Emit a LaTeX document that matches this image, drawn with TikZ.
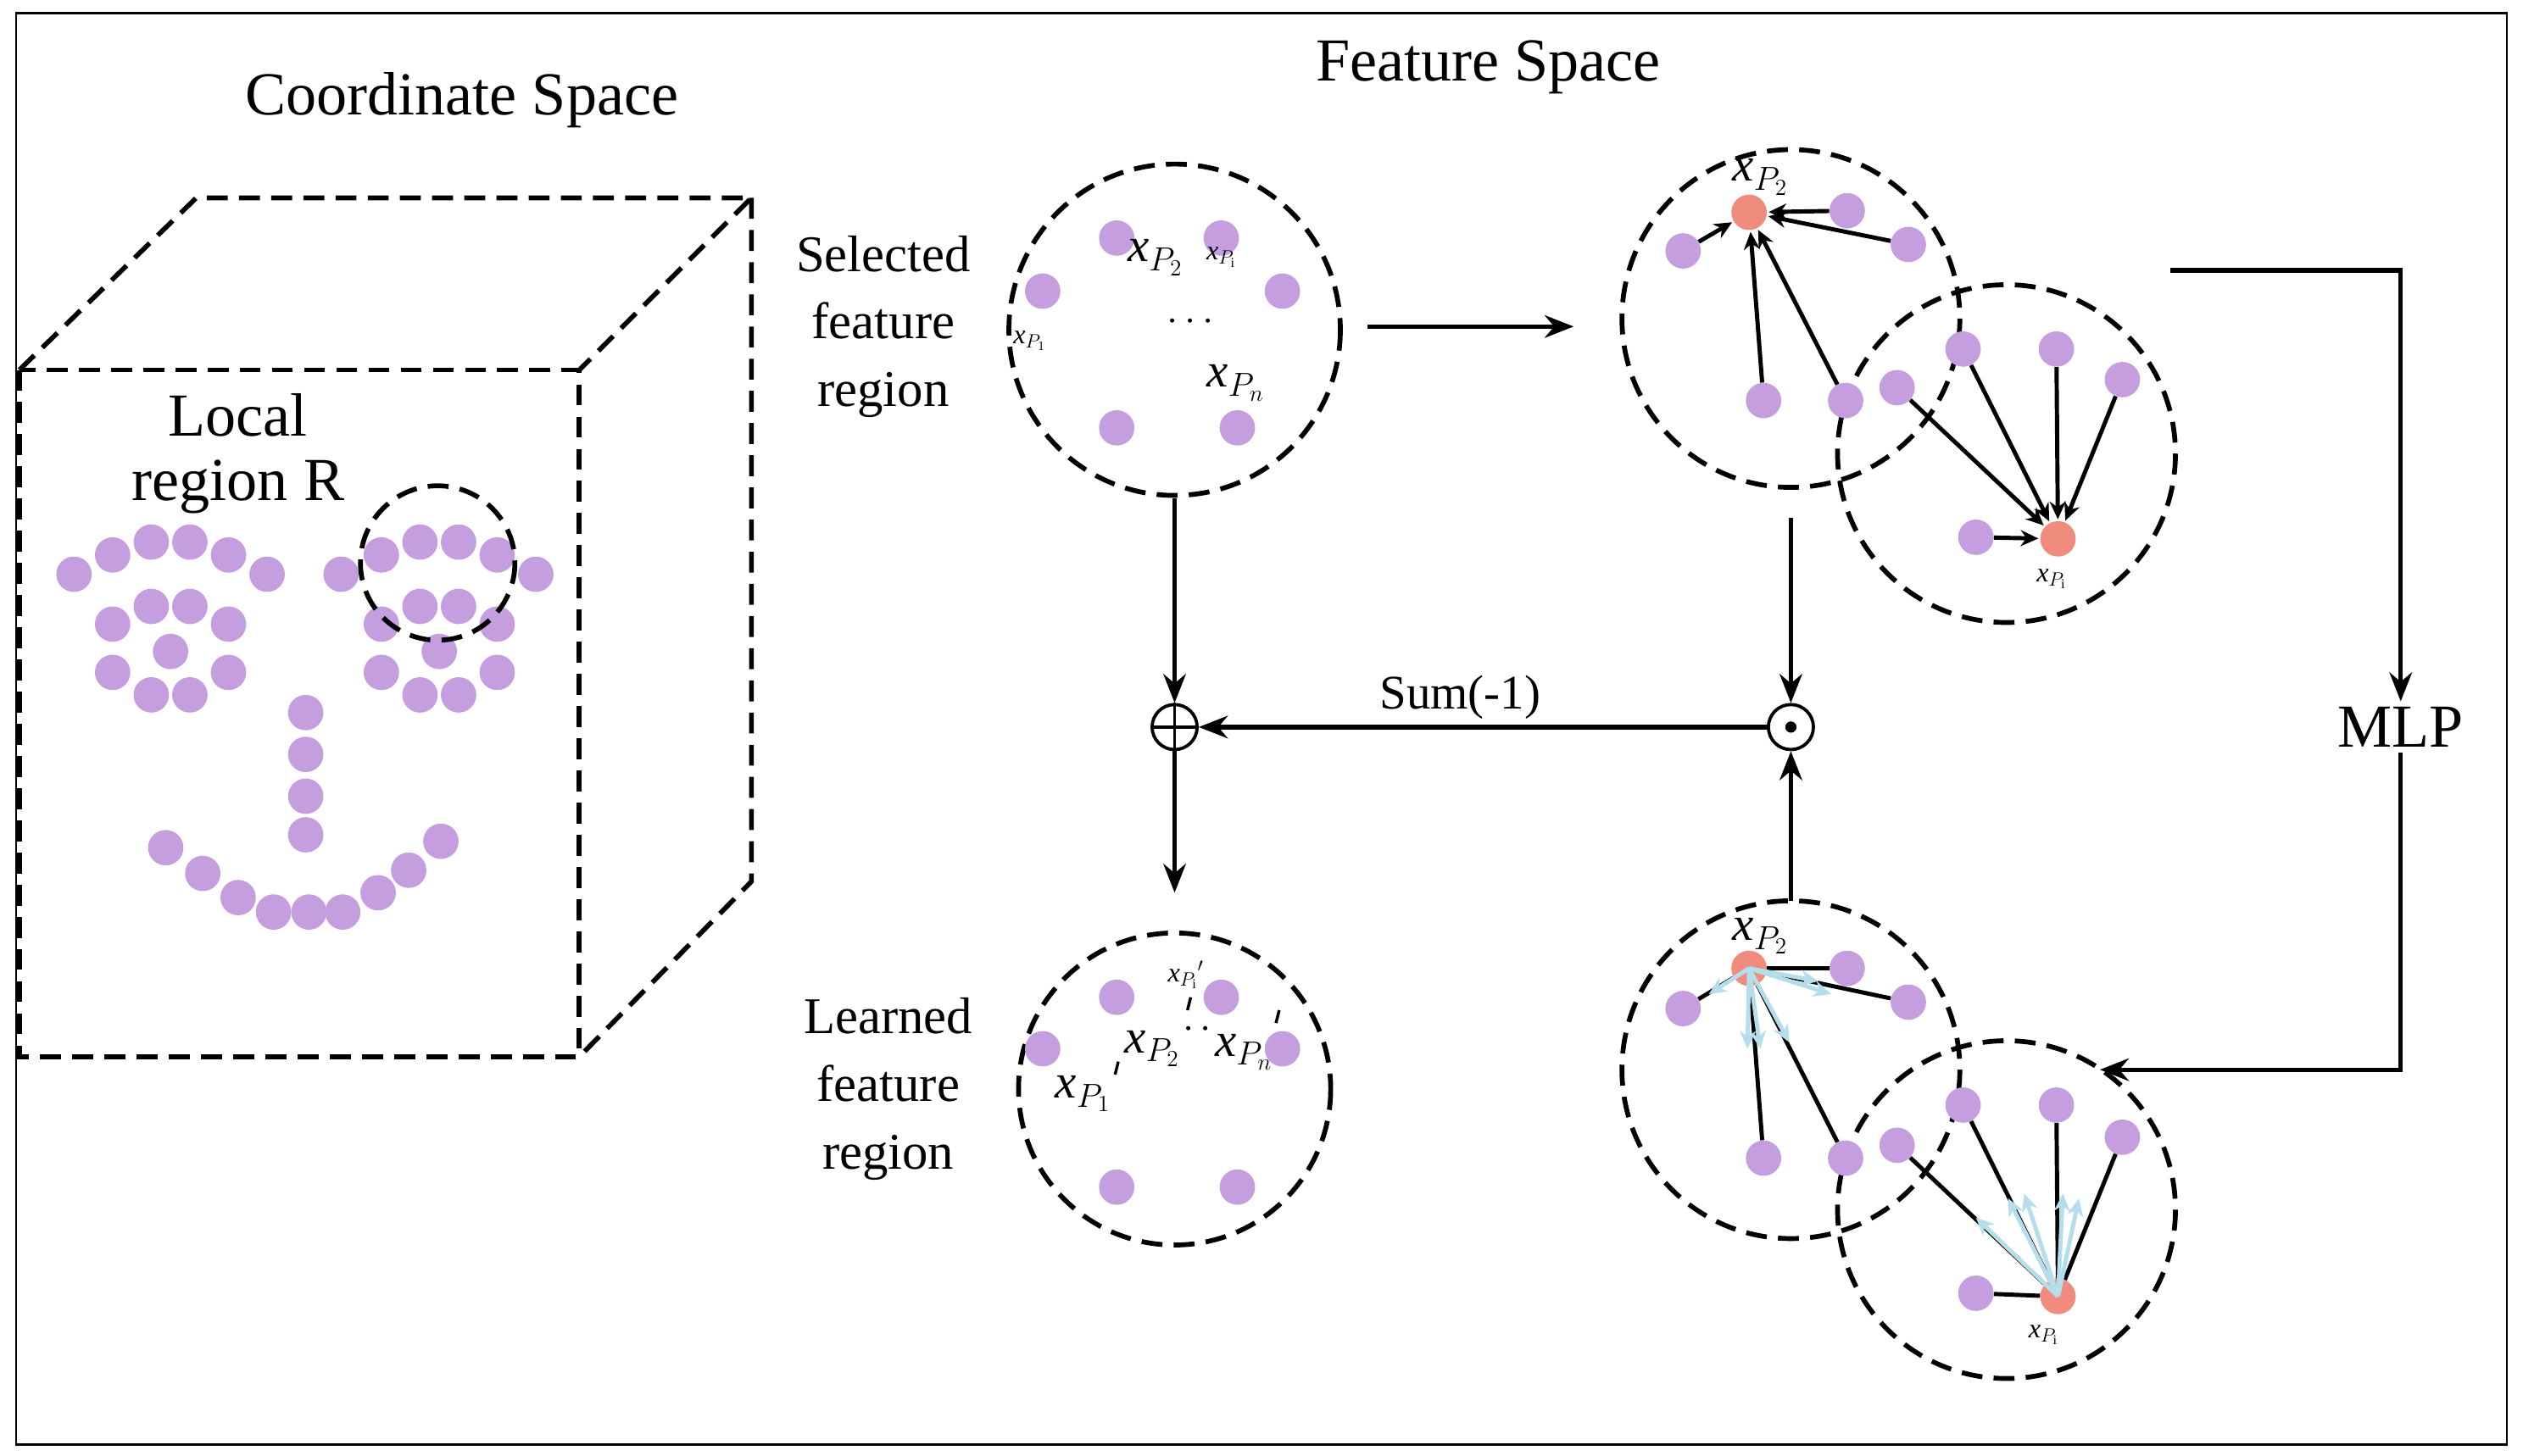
\documentclass[tikz,border=0pt]{standalone}
\usepackage{fontspec}
\setmainfont{Liberation Serif}
\usetikzlibrary{arrows.meta}
\definecolor{pur}{RGB}{196,158,222}
\definecolor{red1}{RGB}{240,140,125}
\definecolor{lb}{RGB}{180,222,235}
\newcommand{\xv}[1]{\textit{x}$_{#1}$}
\begin{document}
\begin{tikzpicture}[x=1pt,y=-1pt,
 dsh/.style={line width=3pt,dash pattern=on 13pt off 7pt},
 pd/.style={circle,fill=pur,inner sep=0pt,minimum size=22pt},
 rd/.style={circle,fill=red1,inner sep=0pt,minimum size=22pt},
 arr/.style={line width=2.8pt,-{Stealth[length=18pt,width=14pt]}},
 sarr/.style={line width=2.6pt,-{Stealth[length=11pt,width=10pt]},shorten >=1pt},
 barr/.style={line width=2.6pt,draw=lb,-{Stealth[length=11pt,width=10pt]}},
 big/.style={font=\fontsize{38}{42}\selectfont},
 mid/.style={font=\fontsize{32}{42}\selectfont,align=center},
 lab/.style={font=\fontsize{30}{32}\selectfont,inner sep=0pt}]
\useasboundingbox (0,0) rectangle (1568,905);
\draw[line width=1.4pt] (10,8) rectangle (1558,898);
% cube
\draw[dsh] (12,230) rectangle (360,657);
\draw[dsh] (12,230) -- (122,123) -- (467,123) -- (360,230);
\draw[dsh] (467,123) -- (467,548) -- (360,657);
\node[big] (t1) at (287,62) {Coordinate Space};
\node[big] (t2) at (925,42) {Feature Space};
\node[big,align=center] (lr) at (148,282) {Local\\[-2pt]region R};
\foreach \p in {(46,357),(70,345),(94,337),(118,337),(142,345),(166,357),(70,388),(94,377),(118,377),(142,388),(70,418),(94,432),(118,432),(142,418),(106,405),
(212,357),(237,345),(261,337),(285,337),(309,345),(333,357),(237,388),(261,377),(285,377),(309,388),(237,418),(261,432),(285,432),(309,418),(273,405),
(190,443),(190,469),(190,495),(190,519),
(103,527),(126,543),(148,558),(170,567),(192,567),(213,567),(235,555),(254,541),(274,523)}
 \node[pd] at \p {};
\draw[dsh] (272,350) circle (48);
% selected region
\draw[dsh] (730,205) circle (103);
\foreach \p in {(694,148),(759,148),(648,181),(797,181),(694,266),(769,266)} \node[pd] at \p {};
\node[lab] at (718,160) {\xv{P_2}};
\node[lab,font=\fontsize{17}{18}\selectfont] at (759,160) {\xv{P_\mathrm{i}}};
\node[lab,font=\fontsize{17}{18}\selectfont] at (640,212) {\xv{P_1}};
\node[lab] at (740,200) {$\cdots$};
\node[lab] at (768,238) {\xv{P_n}};
\node[mid] (sel) at (549,203) {Selected\\feature\\region};
\coordinate (s1) at (850,203); \coordinate (s2) at (978,203);
\draw[arr] (s1) -- (s2);
% top right circles
\draw[dsh] (1113,198) circle (105);
\draw[dsh] (1247,282) circle (105);
\node[rd] (ra) at (1087,132) {};
\foreach \p/\n in {(1046,156)/a1,(1148,131)/a2,(1186,152)/a3,(1096,249)/a4,(1147,249)/a5} {\node[pd] (\n) at \p {}; \draw[sarr] (\n) -- (ra);}
\node[lab] at (1094,110) {\xv{P_2}};
\node[rd] (rb) at (1279,335) {};
\foreach \p/\n in {(1220,217)/b1,(1278,217)/b2,(1319,236)/b3,(1179,241)/b4,(1228,334)/b5} {\node[pd] (\n) at \p {}; \draw[sarr] (\n) -- (rb);}
\node[lab,font=\fontsize{17}{18}\selectfont] at (1275,360) {\xv{P_\mathrm{i}}};
% MLP
\node[big] (mlp) at (1492,452) {MLP};
\draw[arr] (1349,168) -- (1492,168) -- (mlp.north);
\draw[arr] (mlp.south) -- (1492,665) -- (1305,665);
% ops
\node[circle,draw,line width=2pt,minimum size=28pt,inner sep=0pt] (od) at (1113,452) {};
\fill (od) circle (3.5);
\node[circle,draw,line width=2pt,minimum size=28pt,inner sep=0pt] (op) at (730,452) {};
\draw[line width=2pt] (op.north) -- (op.south) (op.west) -- (op.east);
\draw[arr] (730,310) -- (op.north);
\draw[arr] (1113,322) -- (od.north);
\draw[arr] (1113,560) -- (od.south);
\draw[arr] (od.west) -- node[above,font=\fontsize{30}{32}\selectfont,xshift=-14pt] {Sum(-1)} (op.east);
\draw[arr] (op.south) -- (730,555);
% learned region
\draw[dsh] (730,677) circle (97);
\foreach \p in {(694,620),(759,620),(648,652),(797,652),(694,738),(769,738)} \node[pd] at \p {};
\node[lab] at (716,652) {\xv{P_2}};
\node[lab] at (773,654) {\xv{P_n}};
\node[lab] at (673,680) {\xv{P_1}};
\node[lab] at (744,640) {$\cdot\,\cdot$};
\node[lab,font=\fontsize{17}{18}\selectfont] at (737,606) {\xv{P_\mathrm{i}}$'$};
\draw[line width=1.8pt] (695,660)--(693,668) (740,620)--(738,628) (795,628)--(793,636);
\node[mid] (lea) at (552,677) {Learned\\feature\\region};
% bottom right circles
\draw[dsh] (1113,665) circle (105);
\draw[dsh] (1247,752) circle (105);
\node[rd] (rc) at (1087,602) {};
\foreach \p/\n in {(1046,627)/c1,(1148,602)/c2,(1186,623)/c3,(1096,720)/c4,(1147,720)/c5} {\node[pd] (\n) at \p {}; \draw[line width=2.6pt] (\n) -- (rc);}
\foreach \q in {(1062,618),(1130,610),(1138,618),(1094,652),(1086,652),(1112,648)} \draw[barr] (rc.center) -- \q;
\node[lab] at (1094,582) {\xv{P_2}};
\node[rd] (rd) at (1279,806) {};
\foreach \p/\n in {(1220,687)/d1,(1278,687)/d2,(1319,707)/d3,(1179,712)/d4,(1228,804)/d5} {\node[pd] (\n) at \p {}; \draw[line width=2.6pt] (\n) -- (rd);}
\foreach \q in {(1248,745),(1258,742),(1282,742),(1292,745),(1228,757)} \draw[barr] (rd.center) -- \q;
\node[lab,font=\fontsize{17}{18}\selectfont] at (1270,830) {\xv{P_\mathrm{i}}};
\end{tikzpicture}
\end{document}
